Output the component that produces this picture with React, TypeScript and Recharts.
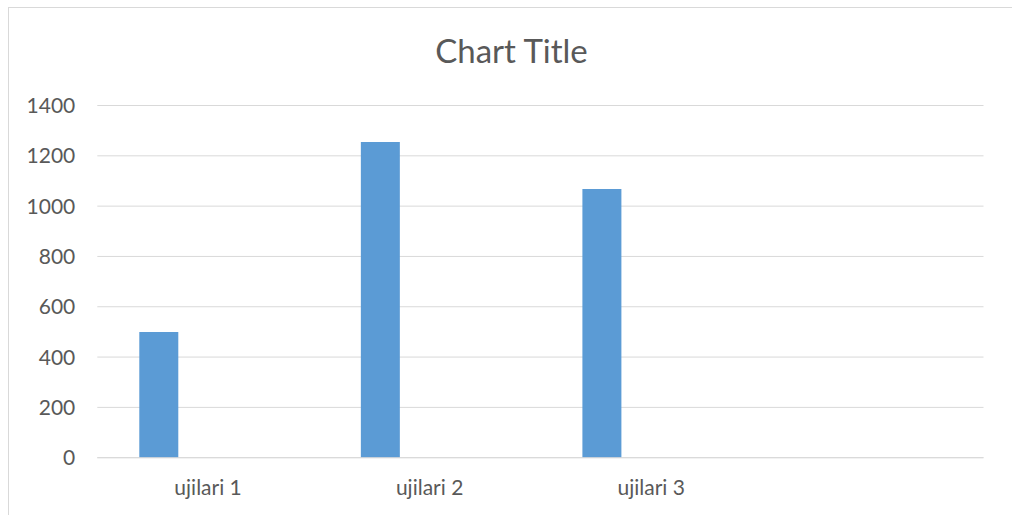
import React from "react";
import { BarChart, Bar, XAxis, YAxis, CartesianGrid } from "recharts";

const categories = ["ujilari 1", "ujilari 2", "ujilari 3", ""];
const series1 = [500, 1255, 1068, null];
const series2 = [null, null, null, null];
const series3 = [null, null, null, null];
const yTicks = [0, 200, 400, 600, 800, 1000, 1200, 1400];
const title = "Chart Title";

const data = categories.map((c, i) => ({
  name: c,
  s1: series1[i],
  s2: series2[i],
  s3: series3[i],
}));

const FONT = "Lato, 'Noto Sans', sans-serif";
const TEXT = "#595959";
const GRID = "#D9D9D9";

export default function App() {
  return (
    <div style={{ position: "absolute", left: 0, top: 0, width: 1012, height: 515, overflow: "hidden", background: "#fff" }}>
      <div
        style={{
          position: "absolute",
          left: 8,
          top: 7,
          width: 1010,
          height: 520,
          border: `1px solid ${GRID}`,
          boxSizing: "border-box",
        }}
      />
      <svg style={{ position: "absolute", left: 0, top: 0 }} width={1012} height={515}>
        <text x={511.5} y={62.7} textAnchor="middle" fontFamily={FONT} fontSize={33} fill={TEXT}>
          {title}
        </text>
      </svg>
      <div style={{ position: "absolute", left: 0, top: 0 }}>
        <BarChart
          width={1012}
          height={515}
          data={data}
          margin={{ top: 105.5, right: 28.5, bottom: 0, left: 17.3 }}
          barSize={39}
          barGap={10}
        >
          <CartesianGrid vertical={false} stroke={GRID} strokeWidth={1} />
          <XAxis
            dataKey="name"
            height={57.3}
            tickLine={false}
            tickSize={0}
            tickMargin={22.4}
            axisLine={{ stroke: GRID }}
            tick={{ fill: TEXT, fontFamily: FONT, fontSize: 21 }}
            interval={0}
          />
          <YAxis
            width={80}
            domain={[0, 1400]}
            ticks={yTicks}
            tickLine={false}
            tickSize={0}
            tickMargin={22}
            axisLine={false}
            tick={{ fill: TEXT, fontFamily: FONT, fontSize: 21 }}
            interval={0}
          />
          <Bar dataKey="s1" fill="#5B9BD5" isAnimationActive={false} />
          <Bar dataKey="s2" fill="#ED7D31" isAnimationActive={false} />
          <Bar dataKey="s3" fill="#A5A5A5" isAnimationActive={false} />
        </BarChart>
      </div>
    </div>
  );
}
